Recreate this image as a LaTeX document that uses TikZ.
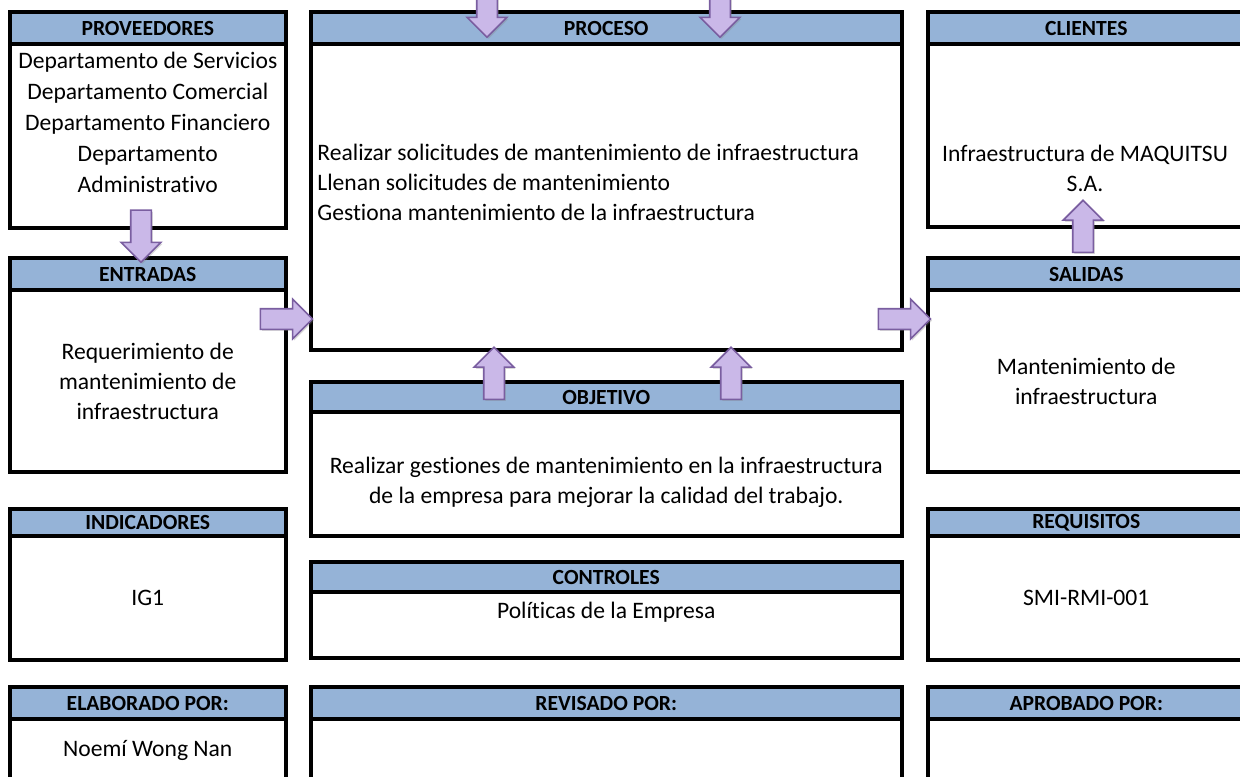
\documentclass[tikz,border=0pt]{standalone}
\usepackage{fontspec}
\setmainfont{Carlito}[Ligatures={NoCommon}]
\usepackage{tikz}
\usetikzlibrary{arrows.meta,positioning,calc,shapes.arrows,shadows}
\definecolor{FichaAzul}{RGB}{149,179,215}
\definecolor{FichaLila}{RGB}{202,184,232}
\definecolor{FichaMorado}{RGB}{122,94,160}

\begin{document}
\begin{tikzpicture}[x=0.5pt,y=-0.5pt,
  head/.style={draw=black,line width=2pt,fill=FichaAzul,outer sep=0pt,inner sep=0pt,anchor=north west,font=\fontsize{10.8}{13}\selectfont\bfseries},
  body/.style={draw=black,line width=2pt,outer sep=0pt,inner sep=0pt,align=center,font=\fontsize{11.8}{15}\selectfont},
  txt/.style={inner sep=0pt,align=center,font=\fontsize{11.8}{15}\selectfont},
  blockarr/.style={single arrow,draw=FichaMorado,line width=0.8pt,fill=FichaLila,minimum height=26pt,minimum width=19pt,inner sep=4.75pt,single arrow head extend=4.75pt,single arrow head indent=0pt,sloped,allow upside down,drop shadow={opacity=0.3,shadow xshift=0.8pt,shadow yshift=-0.8pt}}]
  \useasboundingbox (0,0) rectangle (1240,776);
  % left column
  \node[head,minimum width=138.25pt,minimum height=16pt] (provh) at (9.5,12) {PROVEEDORES};
  \node[body,minimum width=138.25pt,minimum height=91.75pt,below=0pt of provh] (provb) {};
  \node[txt,font=\fontsize{11.8}{15.5}\selectfont] (provt) at (147.75,122) {Departamento de Servicios\\Departamento Comercial\\Departamento Financiero\\Departamento\\Administrativo};
  \node[head,minimum width=138.25pt,minimum height=16pt] (entrh) at (9.5,258) {ENTRADAS};
  \node[body,minimum width=138.25pt,minimum height=91pt,below=0pt of entrh] (entrb) {Requerimiento de\\mantenimiento de\\infraestructura};
  \node[head,minimum width=138.25pt,minimum height=13.5pt] (indh) at (9.5,509) {INDICADORES};
  \node[body,minimum width=138.25pt,minimum height=62pt,below=0pt of indh] (indb) {IG1};
  \node[head,minimum width=138.25pt,minimum height=16pt] (elabh) at (9.5,687) {ELABORADO POR:};
  \node[body,minimum width=138.25pt,minimum height=45pt,below=0pt of elabh] (elabb) {};
  \node[txt] (elabt) at (147.75,750) {Noemí Wong Nan};
  % middle column
  \node[head,minimum width=295.75pt,minimum height=16pt] (proch) at (310.5,12) {PROCESO};
  \node[body,minimum width=295.75pt,minimum height=153pt,below=0pt of proch] (procb) {};
  \node[txt,align=left,anchor=west] (proct) at (317,182) {Realizar solicitudes de mantenimiento de infraestructura\\Llenan solicitudes de mantenimiento\\Gestiona mantenimiento de la infraestructura};
  \node[head,minimum width=295.75pt,minimum height=15pt] (objh) at (310.5,382) {OBJETIVO};
  \node[body,minimum width=295.75pt,minimum height=62pt,below=0pt of objh] (objb) {};
  \node[txt] (objt) at (606.25,482) {Realizar gestiones de mantenimiento en la infraestructura\\de la empresa para mejorar la calidad del trabajo.};
  \node[head,minimum width=295.75pt,minimum height=15pt] (ctrlh) at (310.5,562) {CONTROLES};
  \node[body,minimum width=295.75pt,minimum height=33pt,below=0pt of ctrlh] (ctrlb) {};
  \node[txt] (ctrlt) at (606.25,612) {Políticas de la Empresa};
  \node[head,minimum width=295.75pt,minimum height=16pt] (revh) at (310.5,687) {REVISADO POR:};
  \node[body,minimum width=295.75pt,minimum height=45pt,below=0pt of revh] (revb) {};
  % right column
  \node[head,minimum width=158.75pt,minimum height=16pt] (clih) at (927.5,12) {CLIENTES};
  \node[body,minimum width=158.75pt,minimum height=91.5pt,below=0pt of clih] (clib) {};
  \node[txt] (clit) at (1085,168) {Infraestructura de MAQUITSU\\S.A.};
  \node[head,minimum width=158.75pt,minimum height=16pt] (salh) at (927.5,258) {SALIDAS};
  \node[body,minimum width=158.75pt,minimum height=91pt,below=0pt of salh] (salb) {Mantenimiento de\\infraestructura};
  \node[head,minimum width=158.75pt,minimum height=13.5pt] (reqh) at (927.5,509) {REQUISITOS};
  \node[body,minimum width=158.75pt,minimum height=62pt,below=0pt of reqh] (reqb) {SMI-RMI-001};
  \node[head,minimum width=158.75pt,minimum height=16pt] (aprh) at (927.5,687) {APROBADO POR:};
  \node[body,minimum width=158.75pt,minimum height=45pt,below=0pt of aprh] (aprb) {};
  % block arrows
  \coordinate (a1) at (141,204);
  \coordinate (a2) at (487,-21);
  \coordinate (b2) at (487,33);
  \coordinate (a3) at (720,-21);
  \coordinate (b3) at (720,33);
  \coordinate (a4) at (252,319);
  \coordinate (a5) at (494,407);
  \coordinate (a6) at (731,407);
  \coordinate (a7) at (871,319);
  \coordinate (a8) at (1083,259);
  \coordinate (b8) at (1083,204);
  \path (a1) -- node[blockarr] {} (a1 |- entrh.north);
  \path (a2) -- node[blockarr] {} (b2);
  \path (a3) -- node[blockarr] {} (b3);
  \path (a4) -- node[blockarr] {} (a4 -| proch.west);
  \path (a5) -- node[blockarr] {} (a5 |- procb.south);
  \path (a6) -- node[blockarr] {} (a6 |- procb.south);
  \path (a7) -- node[blockarr] {} (a7 -| salh.west);
  \path (a8) -- node[blockarr] {} (b8);
\end{tikzpicture}
\end{document}
